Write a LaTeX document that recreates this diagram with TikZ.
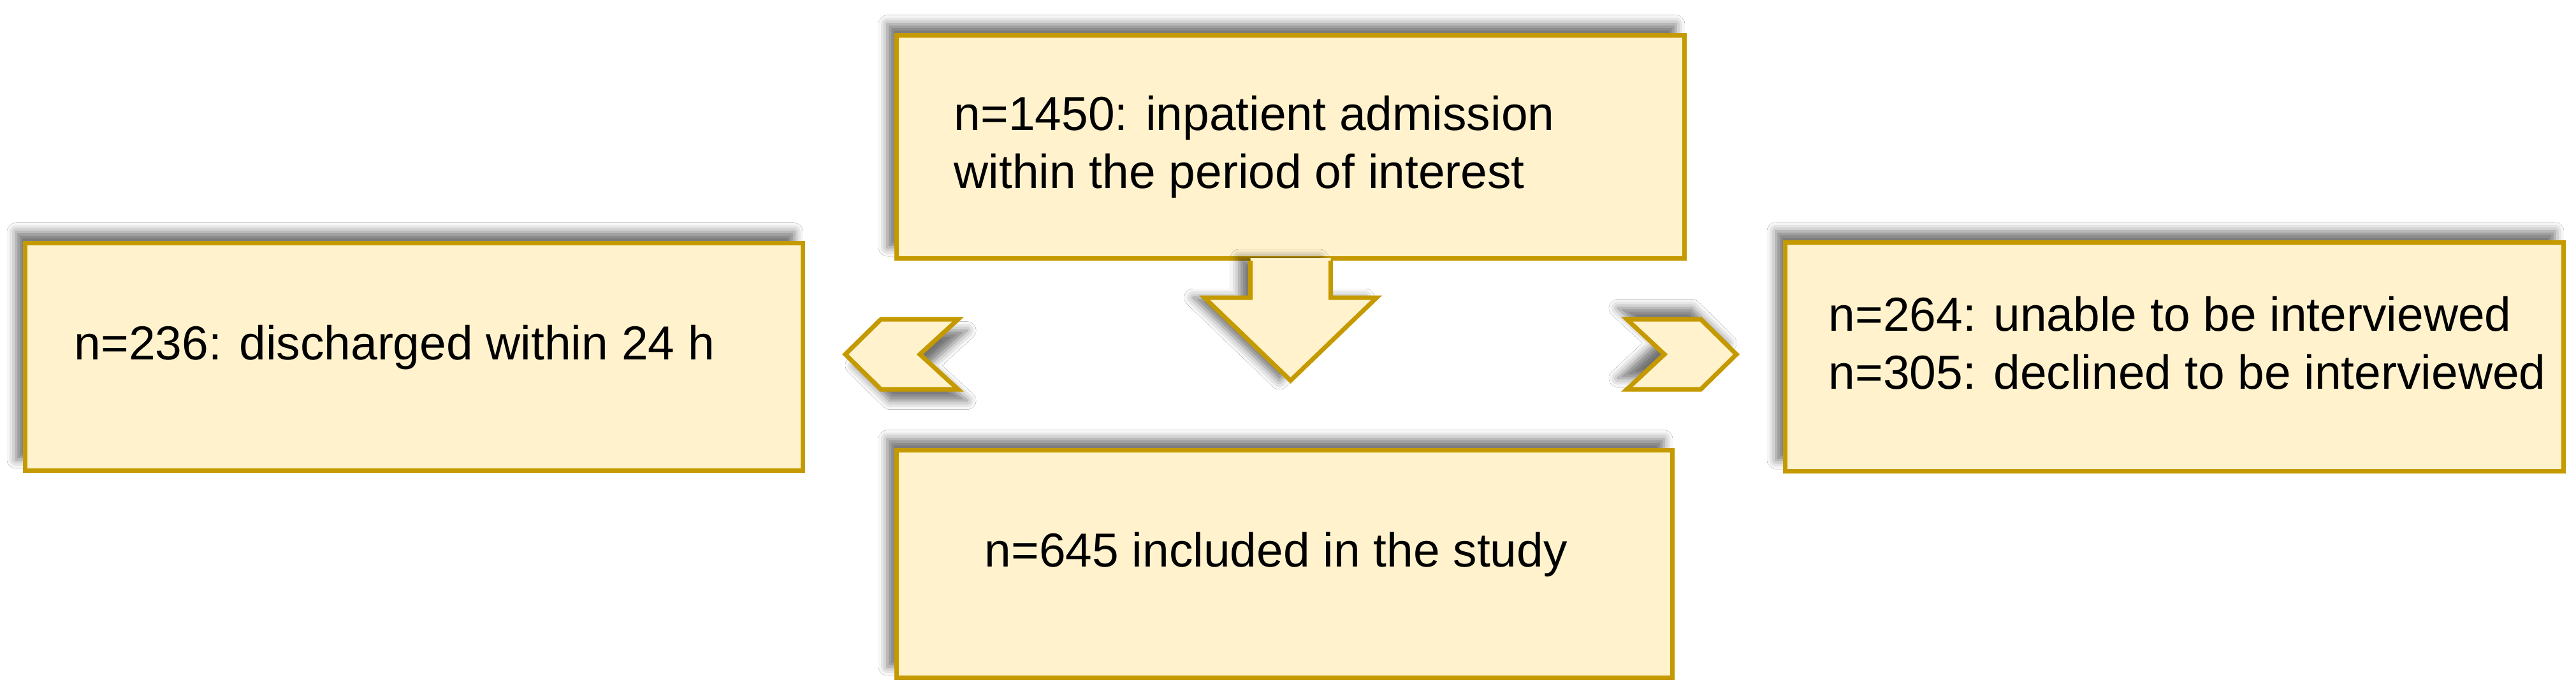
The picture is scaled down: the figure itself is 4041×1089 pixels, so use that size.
\documentclass[tikz,border=0pt]{standalone}
\usepackage{fontspec}
\setmainfont{Liberation Sans}
\usetikzlibrary{shadows.blur,calc}
\definecolor{boxfill}{HTML}{FFF2CC}
\definecolor{boxdraw}{HTML}{C49A00}
\tikzset{
  flowbox/.style={draw=boxdraw, fill=boxfill, line width=2pt, rectangle, inner sep=0pt},
  shadowUL/.style={blur shadow={shadow xshift=-4pt, shadow yshift=5pt, shadow blur radius=4pt, shadow opacity=55}},
  shadowDR/.style={blur shadow={shadow xshift=4pt, shadow yshift=-5pt, shadow blur radius=4pt, shadow opacity=55}},
  shadowL/.style={blur shadow={shadow xshift=-5pt, shadow yshift=0pt, shadow blur radius=4pt, shadow opacity=55}},
  boxtext/.style={inner sep=0pt, anchor=base west, font=\fontsize{21.3}{25.6}\selectfont},
  chevron/.style={draw=boxdraw, fill=boxfill, line width=2pt, line join=miter},
  arrowfill/.style={fill=boxfill},
  arrowline/.style={draw=boxdraw, line width=2pt, line join=miter},
}
\newcommand{\twolines}[2]{\begin{tabular}[t]{@{}l@{}}#1\\#2\end{tabular}}
\begin{document}
\begin{tikzpicture}[x=0.01cm, y=-0.01cm]
\useasboundingbox (0,0) rectangle (4041,1089);
\fill[white] (0,0) rectangle (4041,1089);

% boxes
\node[flowbox, shadowUL, minimum width=12.36cm, minimum height=3.50cm] (top) at (2024.5,230.5) {};
\node[flowbox, shadowUL, minimum width=12.20cm, minimum height=3.57cm] (left) at (649.5,560) {};
\node[flowbox, shadowUL, minimum width=12.21cm, minimum height=3.59cm] (right) at (3411,560) {};
\node[flowbox, shadowUL, minimum width=12.17cm, minimum height=3.57cm] (bottom) at (2015,885) {};

% down arrow attached to top box
\path[arrowfill, shadowL] ($(top.south)+(-63,-4)$) -- ($(top.south)+(-63,58)$) -- ($(top.south)+(-135,58)$)
  -- ($(top.south)+(0,188)$) -- ($(top.south)+(135,58)$) -- ($(top.south)+(63,58)$) -- ($(top.south)+(63,-4)$) -- cycle;
\draw[arrowline] ($(top.south)+(-63,0)$) -- ($(top.south)+(-63,58)$) -- ($(top.south)+(-135,58)$)
  -- ($(top.south)+(0,188)$) -- ($(top.south)+(135,58)$) -- ($(top.south)+(63,58)$) -- ($(top.south)+(63,0)$);

% chevrons
\path[chevron, shadowDR] (1326,556) -- (1382,501) -- (1503,501) -- (1443,556) -- (1503,611) -- (1382,611) -- cycle;
\path[chevron, shadowUL] (2552,501) -- (2668,501) -- (2724,556) -- (2668,611) -- (2552,611) -- (2611,556) -- cycle;

% texts
\node[boxtext] (ttext) at (1496,205) {\twolines{n=1450: inpatient admission}{within the period of interest}};
\node[boxtext] (ltext) at (116,565) {n=236: discharged within 24 h};
\node[boxtext] (rtext) at (2868,520) {\twolines{n=264: unable to be interviewed}{n=305: declined to be interviewed}};
\node[boxtext] (btext) at (1544,890) {n=645 included in the study};
\end{tikzpicture}
\end{document}
